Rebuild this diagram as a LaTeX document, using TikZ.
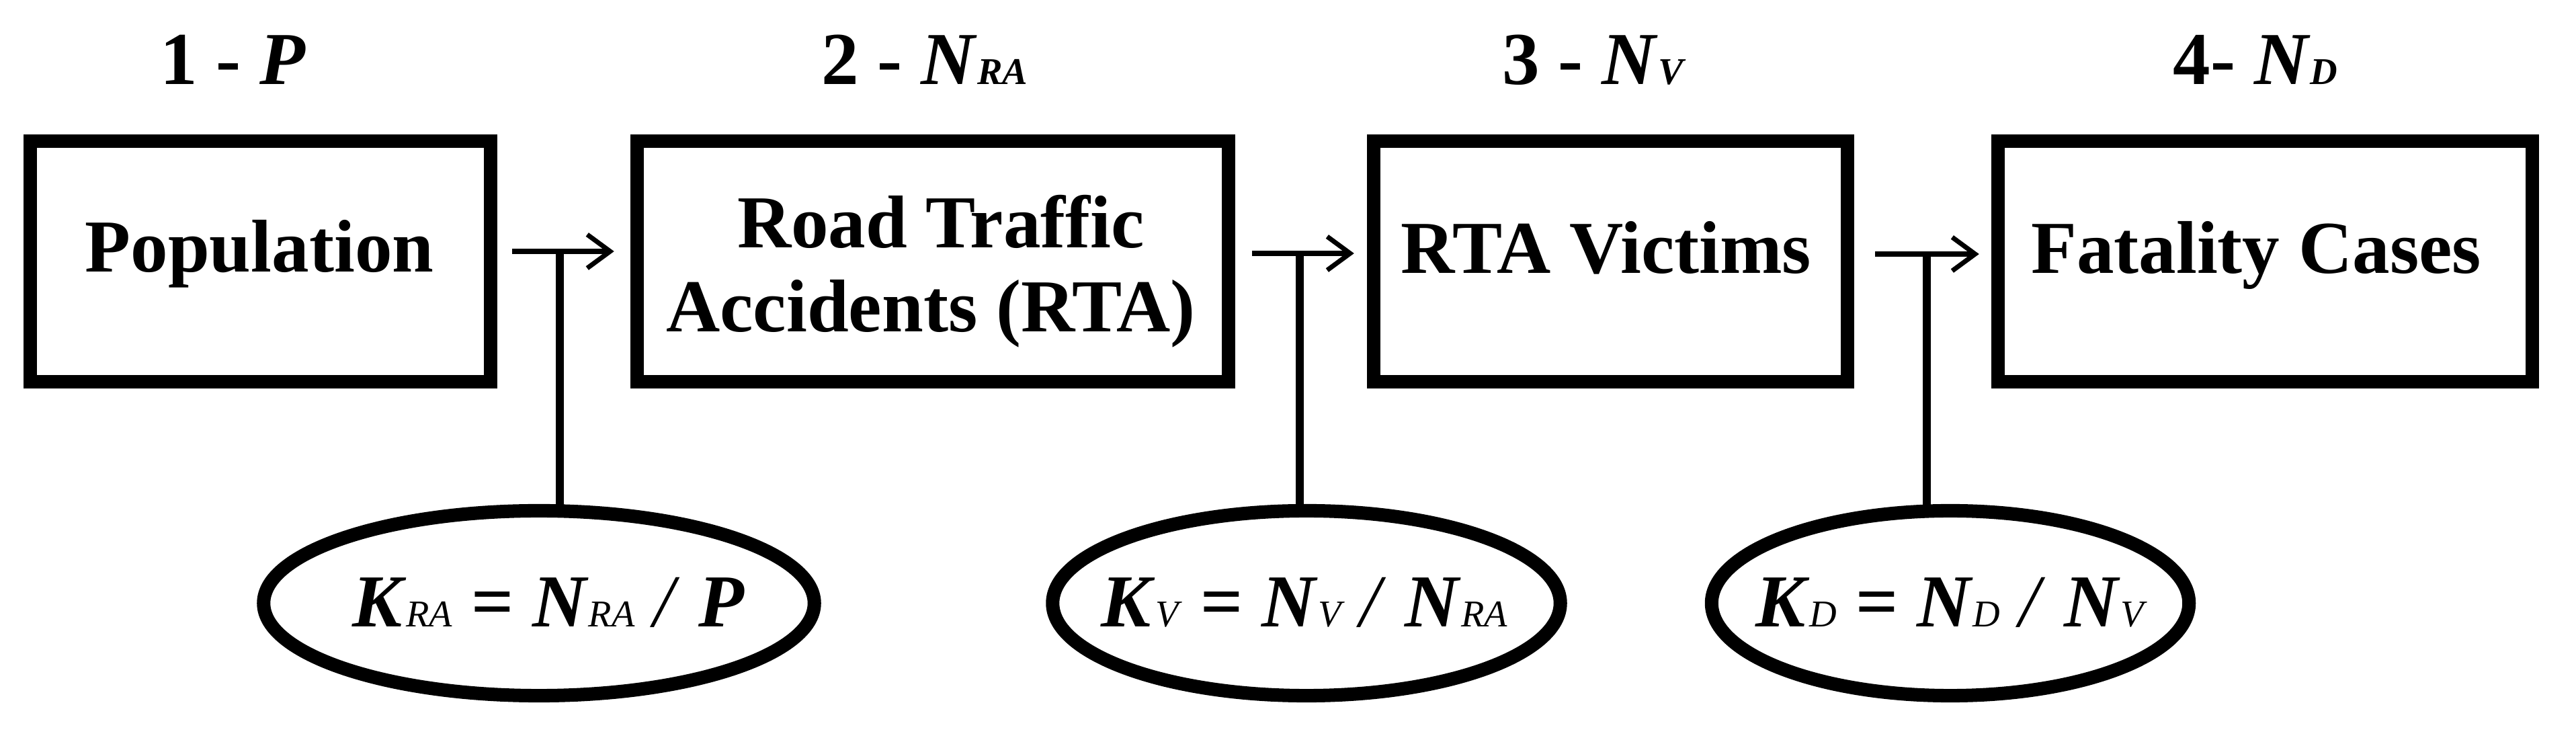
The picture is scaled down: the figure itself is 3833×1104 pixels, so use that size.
\documentclass[tikz,border=0pt]{standalone}
\usepackage{fontspec}
\setmainfont{Liberation Serif}
\usetikzlibrary{arrows.meta,shapes.geometric,calc}
\newcommand{\mysub}[1]{{\fontsize{16}{16}\selectfont\itshape #1}}
\newcommand{\bivar}[1]{\textbf{\textit{#1}}}
\begin{document}
\begin{tikzpicture}[x=0.01cm,y=-0.01cm,
  boxst/.style={draw,rectangle,line width=5.7pt,minimum height=3.58cm,inner sep=0pt,outer sep=0pt},
  ellst/.style={draw,ellipse,line width=5.7pt,minimum height=2.75cm,inner sep=0pt,outer sep=0pt},
  txt/.style={font=\fontsize{31.6}{35.6}\selectfont\bfseries,inner sep=0pt,anchor=base},
  ftxt/.style={font=\fontsize{31.6}{35.6}\selectfont,inner sep=0pt,anchor=base},
  arr/.style={line width=2pt,-{Straight Barb[length=0.34cm,width=0.5cm,line width=2pt]}},
  vl/.style={line width=3.4pt}]
\useasboundingbox (0,0) rectangle (3833,1104);

% boxes
\node[boxst,minimum width=6.85cm] (b1) at (387.5,389) {};
\node[boxst,minimum width=8.8cm]  (b2) at (1388,389) {};
\node[boxst,minimum width=7.05cm] (b3) at (2396.5,389) {};
\node[boxst,minimum width=7.95cm] (b4) at (3370.5,389) {};

% box texts
\node[txt] (t1) at (386,405) {Population};
\node[txt] (t2a) at (1400,369) {Road Traffic};
\node[txt] (t2b) at (1385,494) {Accidents (RTA)};
\node[txt] (t3) at (2390,407) {RTA Victims};
\node[txt] (t4) at (3357,407) {Fatality Cases};

% top labels
\node[txt] (l1) at (347,126) {1 - \textit{P}};
\node[txt] (l2) at (1376,126) {2 - \textit{N}\mysub{RA}};
\node[txt] (l3) at (2370,126) {3 - \textit{N}\mysub{V}};
\node[txt] (l4) at (3356,126) {4- \textit{N}\mysub{D}};

% ellipses
\node[ellst,minimum width=8.19cm] (e1) at (802,897.5) {};
\node[ellst,minimum width=7.55cm] (e2) at (1944,897.5) {};
\node[ellst,minimum width=7.10cm] (e3) at (2902,897.5) {};

\node[ftxt] (f1) at (816,933) {\bivar{K}\mysub{RA} \textbf{=} \bivar{N}\mysub{RA} \textit{/} \bivar{P}};
\node[ftxt] (f2) at (1941,933) {\bivar{K}\mysub{V} \textbf{=} \bivar{N}\mysub{V} \textit{/} \bivar{N}\mysub{RA}};
\node[ftxt] (f3) at (2901,933) {\bivar{K}\mysub{D} \textbf{=} \bivar{N}\mysub{D} \textit{/} \bivar{N}\mysub{V}};

% arrows between boxes
\draw[arr] ($(b1.east)+(32,-15)$) -- ($(b2.west)+(-34,-15)$);
\draw[arr] ($(b2.east)+(35,-12)$) -- ($(b3.west)+(-29,-12)$);
\draw[arr] ($(b3.east)+(41,-11)$) -- ($(b4.west)+(-28,-11)$);

% vertical links to the ellipses
\coordinate (v1) at (833,372);
\coordinate (v2) at (1934,375);
\coordinate (v3) at (2867,376);
\draw[vl] (v1) -- (v1 |- e1.north);
\draw[vl] (v2) -- (v2 |- e2.north);
\draw[vl] (v3) -- (v3 |- e3.north);
\end{tikzpicture}
\end{document}
